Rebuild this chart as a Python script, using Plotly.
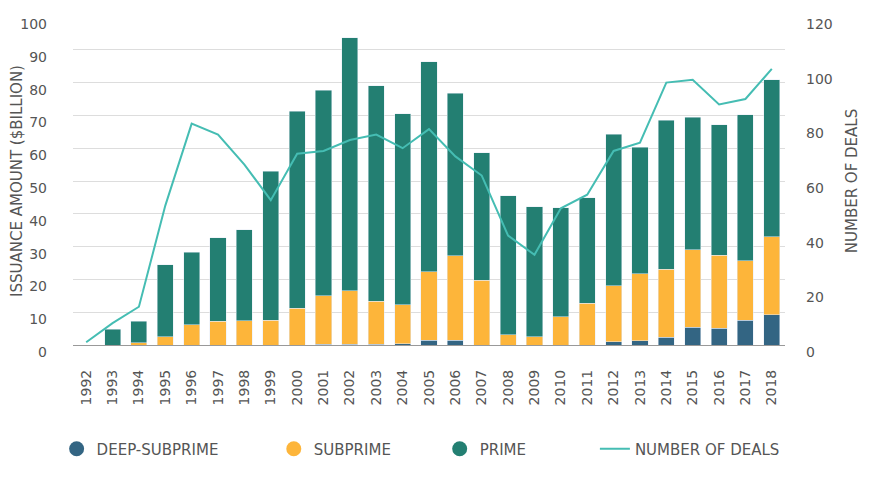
import plotly.graph_objects as go

# issuance by credit tier, $ billion
years = [str(y) for y in range(1992, 2019)]
deep_subprime = [0, 0, 0, 0, 0, 0, 0, 0, 0, 0.3, 0.2, 0.3, 0.4, 1.4, 1.5, 0, 0, 0, 0, 0,
                 1.0, 1.3, 2.3, 5.4, 5.1, 7.6, 9.2]
subprime = [0, 0, 0.7, 2.5, 6.1, 7.3, 7.4, 7.6, 11.2, 14.7, 16.3, 13.0, 11.8, 20.9, 25.7,
            19.8, 3.1, 2.5, 8.6, 12.7, 17.1, 20.4, 20.8, 23.6, 22.2, 18.1, 23.8]
prime = [0, 4.8, 6.6, 21.9, 22.2, 25.4, 27.7, 45.4, 60.0, 62.7, 77.1, 65.7, 58.3, 64.1, 49.6,
         38.8, 42.4, 39.6, 33.3, 32.2, 46.2, 38.6, 45.4, 40.4, 39.8, 44.5, 47.9]
deals = [1, 8, 14, 51, 81, 77, 66, 53, 70, 71, 75, 77, 72, 79, 69, 62, 40, 33, 50, 55,
         71, 74, 96, 97, 88, 90, 101]

c_deep = "#336583"
c_sub = "#fdb53a"
c_prime = "#237f72"
c_line = "#45bdb3"
grey = "#555555"
font = "DejaVu Sans"

fig = go.Figure()
fig.add_trace(go.Bar(x=years, y=deep_subprime, marker_color=c_deep, showlegend=False))
fig.add_trace(go.Bar(x=years, y=subprime, marker_color=c_sub, showlegend=False))
fig.add_trace(go.Bar(x=years, y=prime, marker_color=c_prime, showlegend=False))
fig.add_trace(go.Scatter(x=years, y=deals, yaxis="y2", mode="lines",
                         line=dict(color=c_line, width=2), showlegend=False))

# legend entries with round markers, each in its own legend box
legend_items = [("DEEP-SUBPRIME", c_deep, "legend", -0.023),
                ("SUBPRIME", c_sub, "legend2", 0.282),
                ("PRIME", c_prime, "legend3", 0.515)]
for name, col, lg, _ in legend_items:
    fig.add_trace(go.Scatter(x=[None], y=[None], mode="markers", name=name,
                             marker=dict(color=col, size=15, symbol="circle"),
                             legend=lg))
fig.add_trace(go.Scatter(x=[None], y=[None], mode="lines", name="NUMBER OF DEALS",
                         line=dict(color=c_line, width=2), legend="legend4"))

# the page body adds an 8px offset, so margins are shifted up/left by 8
leg = dict(orientation="h", yanchor="middle", y=-0.317, xanchor="left",
           font=dict(family=font, size=15, color=grey), bgcolor="rgba(0,0,0,0)")
fig.update_layout(
    barmode="stack",
    bargap=0.39,
    width=870, height=478,
    margin=dict(l=65, r=93, t=9, b=141, autoexpand=False),
    plot_bgcolor="white", paper_bgcolor="white",
    font=dict(family=font, size=14, color=grey),
    legend=dict(leg, x=legend_items[0][3]),
    legend2=dict(leg, x=legend_items[1][3]),
    legend3=dict(leg, x=legend_items[2][3]),
    legend4=dict(leg, x=0.733),
    xaxis=dict(tickangle=-90, showgrid=False, ticks="", showline=False,
               automargin=False, ticklabelstandoff=21,
               tickfont=dict(size=14, color=grey)),
    yaxis=dict(range=[0, 100], dtick=10, gridcolor="#dddddd", gridwidth=1,
               zeroline=True, zerolinecolor="#999999", zerolinewidth=1,
               automargin=False, ticklabelstandoff=25, ticklabelshift=7,
               title=dict(text="ISSUANCE AMOUNT ($BILLION)", standoff=10,
                          font=dict(size=15, color=grey)),
               tickfont=dict(size=14, color=grey)),
    yaxis2=dict(range=[0, 120], dtick=20, overlaying="y", side="right",
                showgrid=False, zeroline=False,
                automargin=False, ticklabelstandoff=20, ticklabelshift=7,
                title=dict(text="NUMBER OF DEALS", standoff=14,
                           font=dict(size=15, color=grey)),
                tickfont=dict(size=14, color=grey)),
)

fig.write_html("out.html")
